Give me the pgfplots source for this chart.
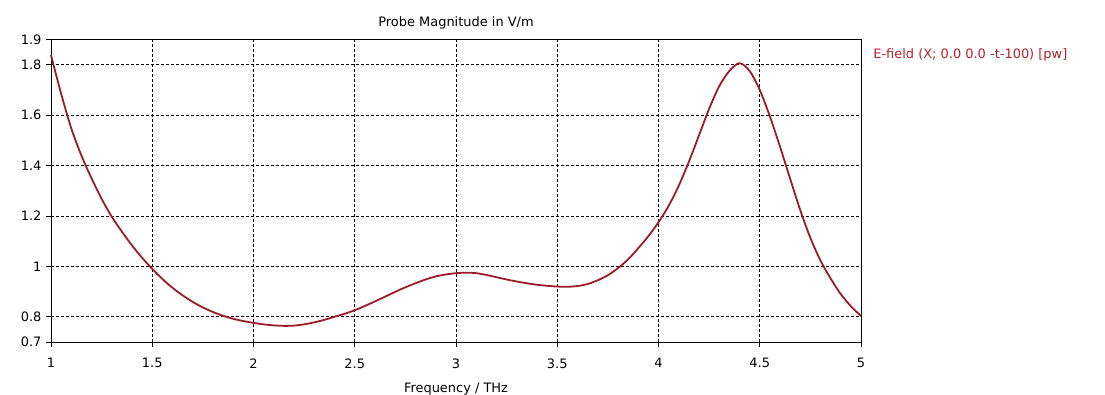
\documentclass[border=0pt]{standalone}
\usepackage{pgfplots}
\pgfplotsset{compat=1.18}
\usepackage{fontspec}
\setmainfont{DejaVu Sans}
\definecolor{curve}{RGB}{155,28,38}
\definecolor{legred}{RGB}{175,35,45}
\begin{document}
\begin{tikzpicture}
\useasboundingbox (-51bp,-53bp) rectangle (1054bp,342bp);
\begin{axis}[
  at={(0,0)}, anchor=south west,
  width=810bp, height=302.5bp, scale only axis,
  xmin=1, xmax=5, ymin=0.7, ymax=1.9,
  xtick={1,1.5,...,5},
  ytick={0.7,0.8,1,1.2,1.4,1.6,1.8,1.9},
  yticklabels={0.7,0.8,1,1.2,1.4,1.6,1.8,1.9},
  xticklabels={1,1.5,2,2.5,3,3.5,4,4.5,5},
  grid=major,
  major grid style={black, line width=0.6bp, dash pattern=on 3bp off 2bp},
  axis line style={black, line width=0.8bp},
  tick align=outside, major tick length=5bp,
  tick style={black, line width=0.8bp},
  xtick pos=bottom, ytick pos=left,
  tick label style={font=\fontsize{13}{15}\selectfont},
  /pgf/number format/assume math mode=true,
  xticklabel style={yshift=-8bp},
  yticklabel style={xshift=-1bp},
  xlabel={Frequency / THz},
  xlabel style={font=\fontsize{13}{15}\selectfont, yshift=-8bp},
  title={Probe Magnitude in V/m},
  title style={font=\fontsize{13}{15}\selectfont, yshift=1bp},
  clip=false,
]
\addplot[curve, line width=1.8bp, smooth] coordinates {
(1.00,1.838) (1.05,1.685) (1.10,1.548) (1.15,1.440) (1.20,1.350)
(1.25,1.268) (1.30,1.197) (1.35,1.138) (1.40,1.083) (1.45,1.034)
(1.50,0.990) (1.55,0.950) (1.60,0.915) (1.65,0.885) (1.70,0.859)
(1.75,0.837) (1.80,0.819) (1.85,0.804) (1.90,0.792) (1.95,0.783)
(2.00,0.776) (2.05,0.770) (2.10,0.766) (2.15,0.764) (2.20,0.765)
(2.25,0.770) (2.30,0.778) (2.35,0.788) (2.40,0.800) (2.45,0.812)
(2.50,0.826) (2.55,0.843) (2.60,0.861) (2.65,0.880) (2.70,0.899)
(2.75,0.917) (2.80,0.933) (2.85,0.948) (2.90,0.960) (2.95,0.968)
(3.00,0.973) (3.05,0.975) (3.10,0.973) (3.15,0.966) (3.20,0.957)
(3.25,0.948) (3.30,0.940) (3.35,0.933) (3.40,0.927) (3.45,0.923)
(3.50,0.920) (3.55,0.919) (3.60,0.922) (3.65,0.930) (3.70,0.945)
(3.75,0.965) (3.80,0.993) (3.85,1.028) (3.90,1.072) (3.95,1.120)
(4.00,1.175) (4.05,1.240) (4.10,1.320) (4.15,1.415) (4.20,1.520)
(4.25,1.625) (4.30,1.715) (4.35,1.775) (4.40,1.806) (4.45,1.775)
(4.50,1.700) (4.55,1.595) (4.60,1.475) (4.65,1.348) (4.70,1.223)
(4.75,1.113) (4.80,1.023) (4.85,0.952) (4.90,0.890) (4.95,0.842)
(5.00,0.803)
};
\node[anchor=west, text=legred, font=\fontsize{13}{15}\selectfont, inner sep=0pt] at (rel axis cs:1.015,0.949) {E-field (X; 0.0 0.0 -t-100) [pw]};
\end{axis}
\end{tikzpicture}
\end{document}
